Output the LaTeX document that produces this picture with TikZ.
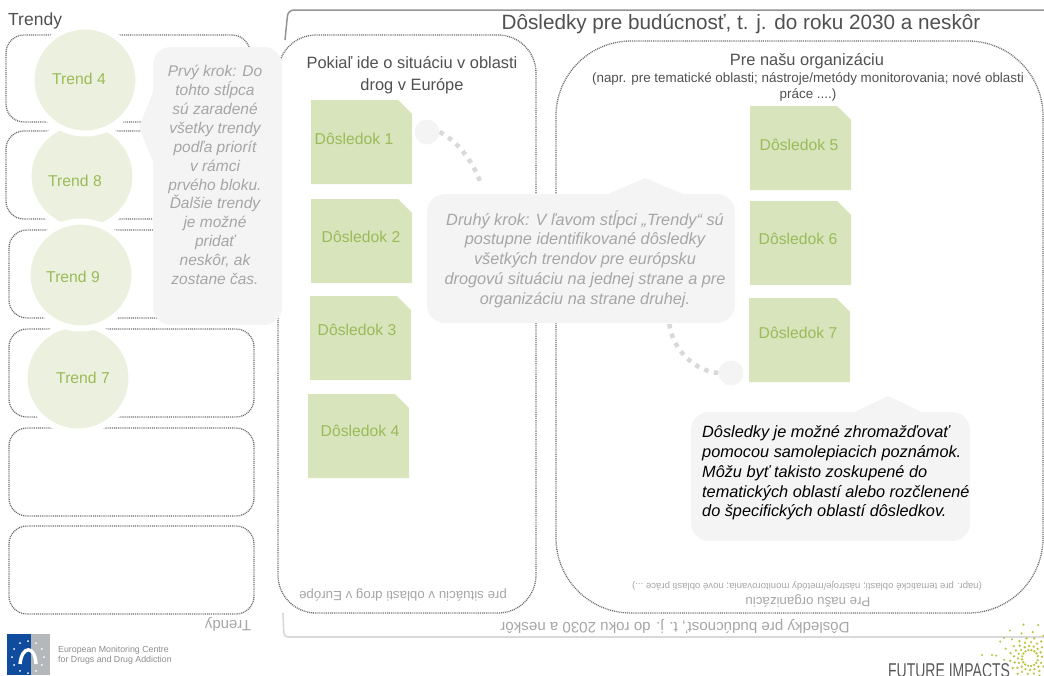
\documentclass[tikz,border=0pt]{standalone}
\usepackage{fontspec}
\setmainfont{Liberation Sans}
\usetikzlibrary{positioning,calc}
\definecolor{notegreen}{HTML}{D7E4BC}
\definecolor{circlegreen}{HTML}{EBF1DE}
\definecolor{textgreen}{HTML}{9BBB59}
\definecolor{bubblegray}{HTML}{F4F4F4}
\definecolor{bubbletext}{HTML}{A6A6A6}
\definecolor{dotgray}{HTML}{6E6E6E}
\definecolor{titletext}{HTML}{505050}
\definecolor{logoblue}{HTML}{0F4C9E}
\definecolor{logogray}{HTML}{B5B8BA}
\definecolor{burst}{HTML}{B9C544}
\tikzset{
  rowbox/.style={draw=dotgray, dash pattern=on 1pt off .9pt, line width=1.3pt, rounded corners=18pt},
  colbox/.style={draw=dotgray, dash pattern=on 1pt off .9pt, line width=1.3pt},
  trendcircle/.style={circle, fill=circlegreen, draw=white, line width=6pt, minimum size=107pt, inner sep=0pt},
  note/.style={fill=notegreen, inner sep=0pt},
  greenlabel/.style={text=textgreen, font=\fontsize{15.7}{18}\selectfont},
  titlelabel/.style={text=titletext, align=center, inner sep=0pt},
  bubble/.style={fill=bubblegray, rounded corners=18pt},
  bubblelabel/.style={text=bubbletext, align=center, inner sep=0pt, font=\fontsize{16.3}{19.8}\selectfont\itshape},
  link/.style={draw=black!15, line width=4.5pt, dash pattern=on 4.5pt off 5.5pt},
  dotcircle/.style={circle, fill=bubblegray, minimum size=25pt, inner sep=0pt},
  flipped/.style={rotate=180, text=bubbletext, inner sep=0pt}
}
\newcommand{\notesheet}[5]{% x, y, width, height, name
  \path[note] (#1,#2) -- ++(#3-14,0) -- ++(14,14) -- (#1+#3,#2+#4) -- (#1,#2+#4) -- cycle;
  \coordinate (#5) at (#1,#2);
}
\begin{document}
\begin{tikzpicture}[x=1pt,y=-1pt]
  \useasboundingbox (0,0) rectangle (1044,675);
  % outer frame
  \draw[black!42, line width=1.5pt, rounded corners=6pt] (285,40) -- (288,10) -- (1044,10);
  \draw[black!15, line width=1.6pt, rounded corners=4pt] (283,613) -- (284,637) -- (1044,637);
  % trend rows
  \draw[rowbox] (6,35) rectangle (250,122);
  \draw[rowbox] (6,131) rectangle (250,219);
  \draw[rowbox] (9,230) rectangle (252,318);
  \draw[rowbox] (9,329) rectangle (254,417);
  \draw[rowbox] (9,428) rectangle (254,516);
  \draw[rowbox] (9,526) rectangle (254,614);
  % columns
  \draw[colbox, rounded corners=38pt] (278,35) rectangle (536,613);
  \draw[colbox, rounded corners=75pt] (556,41) rectangle (1043,613);
  % titles
  \node[titlelabel, anchor=west, font=\fontsize{17.5}{20}\selectfont] (trendy) at (8,21) {Trendy};
  \node[titlelabel, font=\fontsize{20.7}{24}\selectfont] (title) at (741,24) {Dôsledky pre budúcnosť, t. j. do roku 2030 a neskôr};
  \node[titlelabel, font=\fontsize{16.4}{22}\selectfont] (europe) at (412,75) {Pokiaľ ide o situáciu v oblasti\\drog v Európe};
  \node[titlelabel, font=\fontsize{16.4}{19}\selectfont] (org) at (807,61) {Pre našu organizáciu};
  \node[titlelabel, font=\fontsize{13.4}{16}\selectfont] (orgsub) at (808,87) {(napr. pre tematické oblasti; nástroje/metódy monitorovania; nové oblasti\\práce ....)};
  % flipped titles
  \node[flipped, font=\fontsize{15}{17}\selectfont] (trendyb) at (228,624) {Trendy};
  \node[flipped, font=\fontsize{15.1}{17}\selectfont] (titleb) at (675,626) {Dôsledky pre budúcnosť, t. j. do roku 2030 a neskôr};
  \node[flipped, font=\fontsize{13.3}{15}\selectfont] (europeb) at (403,595) {pre situáciu v oblasti drog v Európe};
  \node[flipped, font=\fontsize{13.3}{15}\selectfont] (orgb) at (808,601) {Pre našu organizáciu};
  \node[flipped, font=\fontsize{9.6}{11}\selectfont] (orgsubb) at (807,586) {(napr. pre tematické oblasti; nástroje/metódy monitorovania; nové oblasti práce ...)};
  % trend circles
  \node[trendcircle] (c7) at (78,378) {};
  \node[trendcircle] (c8) at (82,176) {};
  \node[trendcircle] (c4) at (85,80) {};
  \node[trendcircle] (c9) at (81,275) {};
  \node[greenlabel] (t4) at (79,79) {Trend 4};
  \node[greenlabel] (t8) at (75,181) {Trend 8};
  \node[greenlabel] (t9) at (73,277) {Trend 9};
  \node[greenlabel] (t7) at (83,378) {Trend 7};
  % notes
  \notesheet{311}{100}{101}{84}{n1}
  \notesheet{311}{199}{101}{84}{n2}
  \notesheet{310}{296}{101}{84}{n3}
  \notesheet{308}{394}{101}{84}{n4}
  \notesheet{750}{106}{101}{84}{n5}
  \notesheet{750}{201}{101}{84}{n6}
  \notesheet{749}{298}{101}{84}{n7}
  \node[greenlabel] (d1) at (354,139) {Dôsledok 1};
  \node[greenlabel] (d2) at (361,237) {Dôsledok 2};
  \node[greenlabel] (d3) at (357,330) {Dôsledok 3};
  \node[greenlabel] (d4) at (360,431) {Dôsledok 4};
  \node[greenlabel] (d5) at (799,145) {Dôsledok 5};
  \node[greenlabel] (d6) at (798,239) {Dôsledok 6};
  \node[greenlabel] (d7) at (798,333) {Dôsledok 7};
  % links
  \node[dotcircle] (p1) at (427,132) {};
  \node[dotcircle] (p2) at (731,373) {};
  \coordinate (b1) at (481,184);
  \coordinate (b2) at (669,322);
  \draw[link] (p1.east) .. controls (455,140) and (472,158) .. (b1);
  \draw[link] (p2.west) .. controls (695,371) and (672,350) .. (b2);
  % bubbles
  \path[fill=bubblegray] (153,92) -- (139,127) -- (153,162) -- cycle;
  \path[bubble] (153,47) rectangle (282,325);
  \node[bubblelabel, font=\fontsize{15.5}{18.9}\selectfont\itshape] (step1) at (215,175) {Prvý krok: Do\\tohto stĺpca\\sú zaradené\\všetky trendy\\podľa priorít\\v rámci\\prvého bloku.\\Ďalšie trendy\\je možné\\pridať\\neskôr, ak\\zostane čas.};
  \path[fill=bubblegray] (606,195) -- (645,178) -- (685,195) -- cycle;
  \path[bubble] (427,194) rectangle (735,323);
  \node[bubblelabel] (step2) at (585,259) {Druhý krok: V ľavom stĺpci „Trendy“ sú\\postupne identifikované dôsledky\\všetkých trendov pre európsku\\drogovú situáciu na jednej strane a pre\\organizáciu na strane druhej.};
  \path[fill=bubblegray] (853,413) -- (888,396) -- (924,413) -- cycle;
  \path[bubble] (691,412) rectangle (970,541);
  \node[bubblelabel, text=black, align=left, anchor=west] (step3) at (702,473) {Dôsledky je možné zhromažďovať\\pomocou samolepiacich poznámok.\\Môžu byť takisto zoskupené do\\tematických oblastí alebo rozčlenené\\do špecifických oblastí dôsledkov.};
  % logos
  \fill[logoblue] (7,634) rectangle (31,675);
  \fill[logogray] (31,634) rectangle (50,675);
  \foreach \a in {0,30,...,330}
    \fill[white] ($(28,657)+(\a:16)$) circle (1pt);
  \draw[white, line width=3.4pt] (20,664) .. controls (22,645) and (35,645) .. (36,664);
  \node[text=black!45, align=left, anchor=west, inner sep=0pt, font=\fontsize{8.8}{10.5}\selectfont] (emcdda) at (58,655) {European Monitoring Centre\\for Drugs and Drug Addiction};
  \node[text=black!65, anchor=base west, inner sep=0pt, xscale=.7, font=\fontsize{20}{22}\selectfont] (future) at (888,677) {FUTURE IMPACTS};
  \foreach \a in {0,22,...,340}
    \foreach \r in {8,12,16,20}
      \fill[burst] ($(1030,658)+(\a+\r*2:\r)$) circle (1.3pt);
  \foreach \a in {60,85,...,210}
    \foreach \r in {26,34}
      \fill[burst] ($(1030,658)+(-\a+\r:\r)$) circle (1.2pt);
  \fill[burst] (982,655) circle (1.2pt) (992,655) circle (1.2pt) (1004,638) circle (1.2pt);
\end{tikzpicture}
\end{document}
